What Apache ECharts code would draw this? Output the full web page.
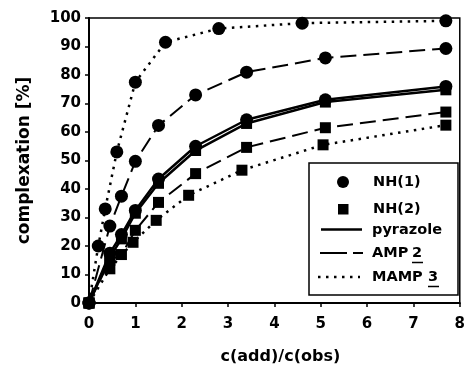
<!DOCTYPE html>
<html>
<head>
<meta charset="utf-8">
<script src="https://cdn.jsdelivr.net/npm/echarts@6/dist/echarts.min.js"></script>
<style>
  html, body { margin: 0; padding: 0; background: #fff; }
  #chart { width: 468px; height: 370px; }
</style>
</head>
<body>
<div id="chart"></div>
<script>
// x = c(add)/c(obs), y = complexation [%]
var xPyr = [0, 0.45, 0.7, 1.0, 1.5, 2.3, 3.4, 5.1, 7.7];
var pyrNH1 = [0, 17.5, 24, 32.5, 43.5, 55, 64.3, 71.3, 76];
var pyrNH2 = [0, 16, 22.5, 31.5, 42, 53.5, 63, 70.5, 74.8];

var xAmp = [0, 0.45, 0.7, 1.0, 1.5, 2.3, 3.4, 5.1, 7.7];
var ampNH1 = [0, 27, 37.5, 49.7, 62.3, 73, 81, 86, 89.3];
var ampNH2 = [0, 15, 17, 25.5, 35.3, 45.4, 54.6, 61.5, 67];

var xMamp1 = [0, 0.2, 0.35, 0.6, 1.0, 1.65, 2.8, 4.6, 7.7];
var mampNH1 = [0, 20, 33, 53, 77.5, 91.5, 96.3, 98.2, 99];
var xMamp2 = [0, 0.45, 0.95, 1.45, 2.15, 3.3, 5.05, 7.7];
var mampNH2 = [0, 12, 21.3, 29, 37.8, 46.6, 55.5, 62.4];

var xTicks = [0, 1, 2, 3, 4, 5, 6, 7, 8];
var yTicks = [0, 10, 20, 30, 40, 50, 60, 70, 80, 90, 100];

var FONT = "DejaVu Sans";
var LEG_FONT = "bold 14.5px " + FONT;

function pairs(xs, ys) {
  return xs.map(function(x, i) { return [x, ys[i]]; });
}

function mkSeries(name, xs, ys, symbol, lineType, width) {
  return {
    name: name,
    type: "line",
    data: pairs(xs, ys),
    symbol: symbol,
    symbolSize: symbol == "circle" ? 13 : 11,
    showAllSymbol: true,
    lineStyle: { color: "#000", width: width, type: lineType },
    itemStyle: { color: "#000", borderWidth: 0 },
    emphasis: { disabled: true },
    z: 3
  };
}

function legText(x, y, t) {
  return { type: "text", style: { x: x, y: y, text: t, font: LEG_FONT, fill: "#000", textVerticalAlign: "middle" } };
}

var chart = echarts.init(document.getElementById("chart"));
chart.setOption({
  animation: false,
  backgroundColor: "#ffffff",
  grid: {
    left: 89,
    right: 4,
    top: 18,
    bottom: 67,
    show: true,
    borderColor: "#000",
    borderWidth: 1.5
  },
  xAxis: {
    type: "value",
    min: xTicks[0],
    max: xTicks[xTicks.length - 1],
    interval: 1,
    name: "c(add)/c(obs)",
    nameLocation: "middle",
    nameGap: 46,
    nameTextStyle: { fontFamily: FONT, fontWeight: "bold", fontSize: 16, color: "#000", padding: [0, 0, 0, 12] },
    axisLine: { lineStyle: { color: "#000", width: 2 } },
    axisTick: { show: true, length: 4, lineStyle: { color: "#000", width: 1.5 } },
    axisLabel: { fontFamily: FONT, fontWeight: "bold", fontSize: 15, color: "#000", margin: 14 },
    splitLine: { show: false }
  },
  yAxis: {
    type: "value",
    min: yTicks[0],
    max: yTicks[yTicks.length - 1],
    interval: 10,
    name: "complexation [%]",
    nameLocation: "middle",
    nameGap: 56,
    nameTextStyle: { fontFamily: FONT, fontWeight: "bold", fontSize: 17, color: "#000" },
    axisLine: { lineStyle: { color: "#000", width: 2 } },
    axisTick: { show: true, length: 4, lineStyle: { color: "#000", width: 1.5 } },
    axisLabel: { fontFamily: FONT, fontWeight: "bold", fontSize: 15, color: "#000", margin: 8 },
    splitLine: { show: false }
  },
  series: [
    mkSeries("MAMP NH(1)", xMamp1, mampNH1, "circle", [2.5, 5.5], 2.5),
    mkSeries("MAMP NH(2)", xMamp2, mampNH2, "rect", [2.5, 5.5], 2.5),
    mkSeries("AMP NH(1)", xAmp, ampNH1, "circle", [16, 7], 2),
    mkSeries("AMP NH(2)", xAmp, ampNH2, "rect", [16, 7], 2),
    mkSeries("pyrazole NH(1)", xPyr, pyrNH1, "circle", "solid", 2.5),
    mkSeries("pyrazole NH(2)", xPyr, pyrNH2, "rect", "solid", 2.5)
  ],
  graphic: [
    {
      type: "group",
      z: 100,
      children: [
        { type: "rect", shape: { x: 309, y: 163, width: 149, height: 132 },
          style: { fill: "#fff", stroke: "#000", lineWidth: 1.5 } },
        { type: "circle", shape: { cx: 343, cy: 182, r: 6 }, style: { fill: "#000" } },
        { type: "rect", shape: { x: 338, y: 204, width: 10.5, height: 10.5 }, style: { fill: "#000" } },
        { type: "line", shape: { x1: 321, y1: 229.5, x2: 362, y2: 229.5 }, style: { stroke: "#000", lineWidth: 2.5 } },
        { type: "line", shape: { x1: 320, y1: 253, x2: 363, y2: 253 }, style: { stroke: "#000", lineWidth: 2, lineDash: [27, 6] } },
        { type: "line", shape: { x1: 318, y1: 277, x2: 360, y2: 277 }, style: { stroke: "#000", lineWidth: 2.5, lineDash: [2.5, 5.5] } },
        legText(373, 182, "NH(1)"),
        legText(373, 209, "NH(2)"),
        legText(372, 230, "pyrazole"),
        legText(372, 253, "AMP"),
        legText(412, 253, "2"),
        { type: "line", shape: { x1: 412, y1: 262.5, x2: 423, y2: 262.5 }, style: { stroke: "#000", lineWidth: 1.5 } },
        legText(372, 277, "MAMP"),
        legText(428, 277, "3"),
        { type: "line", shape: { x1: 428, y1: 286.5, x2: 439, y2: 286.5 }, style: { stroke: "#000", lineWidth: 1.5 } }
      ]
    }
  ]
});
</script>
</body>
</html>
